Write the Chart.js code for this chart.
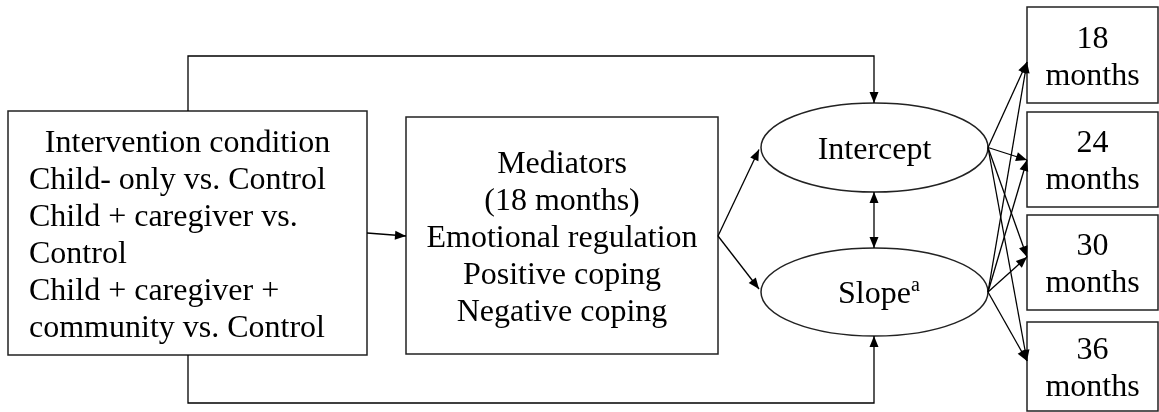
<!DOCTYPE html>
<html>
<head>
<meta charset="utf-8">
<script src="https://cdn.jsdelivr.net/npm/chart.js@4.4.1/dist/chart.umd.min.js"></script>
<style>
  html, body { margin: 0; padding: 0; background: #fff; }
  #wrap { width: 1159px; height: 412px; position: relative; }
</style>
</head>
<body>
<div id="wrap"><canvas id="diagram"></canvas></div>
<script>
// node names and their text
var nodeNames = ['condition', 'mediators', 'intercept', 'slope', 'm18', 'm24', 'm30', 'm36'];
var nodeLines = [
    ['Intervention condition', 'Child- only vs. Control', 'Child + caregiver vs.', 'Control', 'Child + caregiver +', 'community vs. Control'],
    ['Mediators', '(18 months)', 'Emotional regulation', 'Positive coping', 'Negative coping'],
    ['Intercept'],
    ['Slope'],
    ['18', 'months'],
    ['24', 'months'],
    ['30', 'months'],
    ['36', 'months']
];
var nodeKinds = ['box', 'box', 'latent', 'latent', 'box', 'box', 'box', 'box'];

// paths between nodes (from -> to)
var pathFrom = ['condition', 'condition', 'condition', 'mediators', 'mediators', 'intercept',
                'intercept', 'intercept', 'intercept', 'intercept', 'slope', 'slope', 'slope', 'slope'];
var pathTo   = ['mediators', 'intercept', 'slope', 'intercept', 'slope', 'slope',
                'm18', 'm24', 'm30', 'm36', 'm18', 'm24', 'm30', 'm36'];

// layout, in diagram units (x 0..1159, y 0..412 top-down)
var layout = {
    condition: { x0: 8, x1: 367, y0: 111, y1: 355 },
    mediators: { x0: 406, x1: 718, y0: 117, y1: 354 },
    intercept: { x0: 761, x1: 988, y0: 103, y1: 192 },
    slope:     { x0: 761, x1: 988, y0: 248, y1: 336 },
    m18: { x0: 1027, x1: 1158, y0: 7, y1: 103 },
    m24: { x0: 1027, x1: 1158, y0: 112, y1: 207 },
    m30: { x0: 1027, x1: 1158, y0: 215, y1: 310 },
    m36: { x0: 1027, x1: 1158, y0: 322, y1: 411 }
};
var targetY = { m18: 62, m24: 160, m30: 257, m36: 361 };

function route(from, to) {
    var a = layout[from], b = layout[to];
    var aMid = (a.y0 + a.y1) / 2, bMid = (b.y0 + b.y1) / 2;
    if (from === 'condition' && to === 'mediators') return [[a.x1, 233], [b.x0, 236]];
    if (from === 'condition' && to === 'intercept') return [[188, a.y0], [188, 56], [874, 56], [874, b.y0]];
    if (from === 'condition' && to === 'slope') return [[188, a.y1], [188, 403], [874, 403], [874, b.y1]];
    if (from === 'mediators') return [[a.x1, 236], [b.x0 - 2, bMid + (to === 'intercept' ? 2 : -3)]];
    if (from === 'intercept' && to === 'slope') return [[874, a.y1], [874, b.y0]];
    return [[a.x1, aMid], [b.x0, targetY[to]]];
}

function arrowHead(ctx, x0, y0, x1, y1) {
    var ang = Math.atan2(y1 - y0, x1 - x0), len = 11, half = 4.5;
    ctx.beginPath();
    ctx.moveTo(x1, y1);
    ctx.lineTo(x1 - len * Math.cos(ang) + half * Math.sin(ang), y1 - len * Math.sin(ang) - half * Math.cos(ang));
    ctx.lineTo(x1 - len * Math.cos(ang) - half * Math.sin(ang), y1 - len * Math.sin(ang) + half * Math.cos(ang));
    ctx.closePath();
    ctx.fill();
}

var diagramPlugin = {
    id: 'diagram',
    afterDatasetsDraw: function(chart) {
        var ctx = chart.ctx;
        var sx = chart.scales.x, sy = chart.scales.y;
        var px = function(v) { return sx.getPixelForValue(v); };
        var py = function(v) { return sy.getPixelForValue(v); };
        ctx.save();
        ctx.fillStyle = '#000';
        ctx.textBaseline = 'middle';
        var font = '32px "Liberation Serif", "Times New Roman", serif';

        // nodes
        nodeNames.forEach(function(name, i) {
            var l = layout[name];
            var x0 = px(l.x0), x1 = px(l.x1), y0 = py(l.y0), y1 = py(l.y1);
            ctx.strokeStyle = '#222';
            ctx.lineWidth = 1.5;
            ctx.beginPath();
            if (nodeKinds[i] === 'box') {
                ctx.rect(x0, y0, x1 - x0, y1 - y0);
            } else {
                ctx.ellipse((x0 + x1) / 2, (y0 + y1) / 2, (x1 - x0) / 2, (y1 - y0) / 2, 0, 0, Math.PI * 2);
            }
            ctx.stroke();

            ctx.font = font;
            var lines = nodeLines[i];
            var lh = 37;
            var cy = (y0 + y1) / 2;
            var cx = (x0 + x1) / 2;
            lines.forEach(function(t, k) {
                var ty = cy + (k - (lines.length - 1) / 2) * lh + 3;
                if (name === 'condition' && k > 0) {
                    ctx.textAlign = 'left';
                    ctx.fillText(t, x0 + 21, ty);
                } else {
                    ctx.textAlign = 'center';
                    ctx.fillText(t, cx, ty);
                }
            });
            if (name === 'slope') {
                var w = ctx.measureText(lines[0]).width;
                ctx.font = '20px "Liberation Serif", "Times New Roman", serif';
                ctx.textAlign = 'left';
                ctx.fillText('a', cx + w / 2, cy - 6);
            }
        });

        // paths
        ctx.strokeStyle = '#000';
        ctx.lineWidth = 1.3;
        pathFrom.forEach(function(from, i) {
            var pts = route(from, pathTo[i]).map(function(p) { return [px(p[0]), py(p[1])]; });
            ctx.beginPath();
            ctx.moveTo(pts[0][0], pts[0][1]);
            for (var k = 1; k < pts.length; k++) ctx.lineTo(pts[k][0], pts[k][1]);
            ctx.stroke();
            var n = pts.length;
            arrowHead(ctx, pts[n - 2][0], pts[n - 2][1], pts[n - 1][0], pts[n - 1][1]);
            if (from === 'intercept' && pathTo[i] === 'slope') {
                arrowHead(ctx, pts[1][0], pts[1][1], pts[0][0], pts[0][1]);
            }
        });
        ctx.restore();
    }
};

var ctx = document.getElementById('diagram').getContext('2d');
var myChart = new Chart(ctx, {
    type: 'scatter',
    data: { datasets: [{ data: [], pointRadius: 0 }] },
    options: {
        responsive: true,
        maintainAspectRatio: false,
        animation: false,
        layout: { padding: 0 },
        scales: {
            x: { type: 'linear', min: 0, max: 1159, display: false },
            y: { type: 'linear', min: 0, max: 412, reverse: true, display: false }
        },
        plugins: {
            legend: { display: false },
            tooltip: { enabled: false },
            title: { display: false }
        }
    },
    plugins: [diagramPlugin]
});
</script>
</body>
</html>
